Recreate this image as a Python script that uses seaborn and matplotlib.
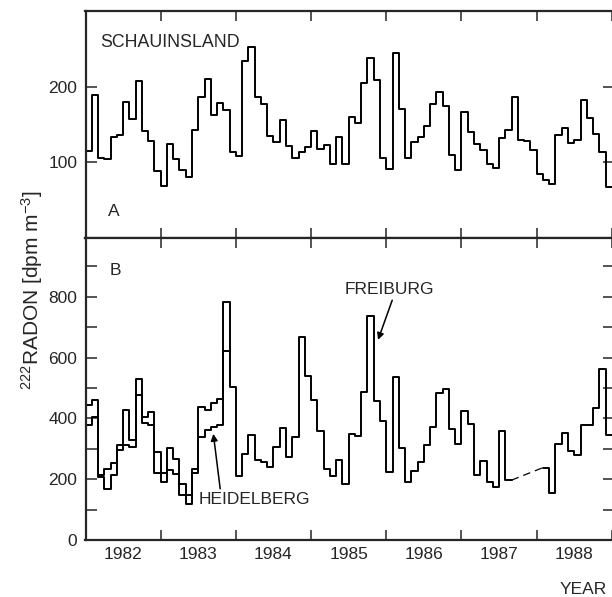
import numpy as np
import pandas as pd
import matplotlib
matplotlib.use("Agg")
import matplotlib.pyplot as plt
import seaborn as sns

# ---------------- data (monthly means, starting January 1982) ----------------
start_year = 1982
schauinsland = [115, 189, 106, 104, 134, 136, 180, 157, 207, 141, 128, 89,
                69, 124, 104, 90, 80, 143, 186, 210, 163, 179, 169, 113,
                109, 234, 253, 187, 177, 135, 127, 156, 121, 106, 114, 120,
                141, 117, 123, 98, 133, 98, 160, 152, 205, 238, 209, 106,
                91, 245, 170, 106, 127, 133, 148, 177, 193, 175, 110, 90,
                167, 140, 124, 116, 98, 93, 132, 143, 187, 130, 128, 116,
                84, 77, 72, 136, 145, 125, 130, 183, 158, 138, 114, 67]
freiburg = [444, 460, 213, 235, 252, 312, 427, 329, 530, 405, 422, 290,
            219, 303, 265, 185, 147, 235, 436, 427, 449, 464, 784, 504,
            210, 282, 345, 262, 258, 240, 307, 367, 274, 338, 667, 538,
            460, 360, 235, 210, 262, 185, 348, 341, 485, 737, 456, 392,
            222, 537, 302, 190, 227, 258, 312, 370, 484, 495, 365, 316,
            425, 381, 214, 261, 192, 175, 359, 197, None, None, None, None,
            None, 238, 153, 316, 352, 291, 278, 377, 379, 434, 561, 346]
heidelberg = [378, 405, 208, 169, 213, 296, 313, 307, 477, 384, 378, 219,
              191, 230, 218, 147, 120, 219, 340, 362, 370, 378, 620]
year_labels = ["1982", "1983", "1984", "1985", "1986", "1987", "1988"]
station_a = "SCHAUINSLAND"
station_b1 = "FREIBURG"
station_b2 = "HEIDELBERG"


def step_frame(values):
    """monthly values -> step edges, split into segments at missing months"""
    rows = []
    seg = 0
    prev_missing = True
    for k, v in enumerate(values):
        if v is None:
            prev_missing = True
            continue
        if prev_missing:
            seg += 1
        prev_missing = False
        rows.append((start_year + k / 12, v, seg))
        nxt_missing = (k + 1 >= len(values)) or (values[k + 1] is None)
        if nxt_missing:
            rows.append((start_year + (k + 1) / 12, v, seg))
    return pd.DataFrame(rows, columns=["t", "v", "seg"])


sns.set_style("ticks")
plt.rcParams["font.family"] = ["Liberation Sans", "DejaVu Sans"]
plt.rcParams["mathtext.fontset"] = "custom"
plt.rcParams["mathtext.rm"] = "Liberation Sans"
plt.rcParams["mathtext.it"] = "Liberation Sans:italic"
plt.rcParams["mathtext.default"] = "regular"

FS = 12.5
LW = 1.4

fig = plt.figure(figsize=(6.12, 5.97), dpi=100)
W, H = 612.0, 597.0
left, right = 85.5, 614.0
axA = fig.add_axes([left / W, (H - 238) / H, (right - left) / W, 227 / H])
axB = fig.add_axes([left / W, (H - 540) / H, (right - left) / W, 302 / H])

x_end = start_year + (right - left) / 75.2

for ax, series in ((axA, [schauinsland]), (axB, [freiburg, heidelberg])):
    for s in series:
        df = step_frame(s)
        sns.lineplot(data=df, x="t", y="v", units="seg", estimator=None,
                     drawstyle="steps-post", color="black", lw=LW, ax=ax,
                     legend=False)
    ax.set_xlim(start_year, x_end)
    for sp in ax.spines.values():
        sp.set_linewidth(1.6)
        sp.set_visible(True)
    ax.set_xlabel("")
    ax.set_ylabel("")
    # year boundaries: tick marks; mid-year: labels
    ax.set_xticks(np.arange(start_year + 1, start_year + len(year_labels) + 1))
    ax.set_xticklabels([])
    ax.set_xticks(start_year + 0.5 + np.arange(len(year_labels)), minor=True)
    ax.tick_params(axis="x", which="major", direction="in", top=True,
                   bottom=True, length=7.5, width=1.1)
    ax.tick_params(axis="y", which="major", direction="in", left=True,
                   right=True, length=8, width=1.1, labelsize=FS, pad=6)

# gap in Freiburg record (dashed connection)
gap_idx = [i for i, v in enumerate(freiburg) if v is None]
g0, g1 = gap_idx[0] - 1, gap_idx[-1] + 1
axB.plot([start_year + (g0 + 1) / 12, start_year + g1 / 12],
         [freiburg[g0], freiburg[g1]], color="black", lw=0.9,
         ls=(0, (6, 4)))

axA.set_ylim(0, 300)
axA.set_yticks([100, 200])
axA.tick_params(axis="x", which="minor", length=0, labelbottom=False)

axB.set_ylim(0, 993)
axB.set_yticks(np.arange(0, 1000, 100))
axB.set_yticklabels([str(v) if v % 200 == 0 else "" for v in range(0, 1000, 100)])
axB.set_xticklabels(year_labels, minor=True)
axB.tick_params(axis="x", which="minor", length=0, labelsize=FS, pad=5)

# annotations
axA.text(0.027, 0.86, station_a, transform=axA.transAxes, fontsize=FS + 0.3,
         ha="left", va="center")
axA.text(0.043, 0.115, "A", transform=axA.transAxes, fontsize=FS,
         ha="left", va="center")
axB.text(0.045, 0.894, "B", transform=axB.transAxes, fontsize=FS,
         ha="left", va="center")

axB.annotate(station_b1, xy=(1985.89, 658), xytext=(1985.44, 824),
             fontsize=FS, ha="left", va="center",
             arrowprops=dict(arrowstyle="-|>", color="black", lw=1.1,
                             shrinkA=0, shrinkB=0, mutation_scale=10,
                             relpos=(0.55, 0.0)))
axB.annotate(station_b2, xy=(1983.70, 349), xytext=(1983.50, 133),
             fontsize=FS, ha="left", va="center",
             arrowprops=dict(arrowstyle="-|>", color="black", lw=1.1,
                             shrinkA=0, shrinkB=0, mutation_scale=10,
                             relpos=(0.2, 1.0)))

fig.text(32 / W, 1 - 290 / H, r"$^{222}$RADON [dpm m$^{-3}$]", rotation=90,
         ha="center", va="center", fontsize=15)
fig.text(607 / W, 1 - 589 / H, "YEAR", ha="right", va="center", fontsize=FS)

fig.savefig("out.png", dpi=100)
